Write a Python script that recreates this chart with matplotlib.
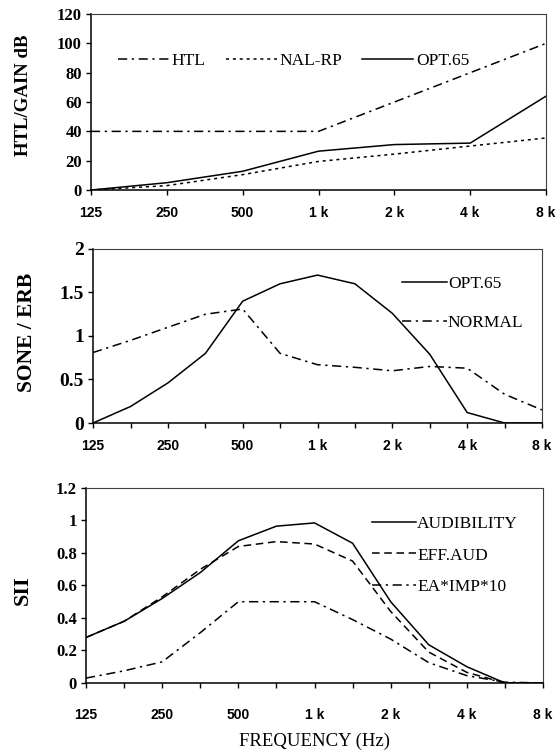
import matplotlib
matplotlib.use("Agg")
import matplotlib.pyplot as plt

# octave frequencies (top panel) and half-octave frequencies (lower panels)
freq_oct = [125, 250, 500, 1000, 2000, 4000, 8000]
freq_half = [125, 177, 250, 354, 500, 707, 1000, 1414, 2000, 2828, 4000, 5657, 8000]
oct_labels = ["125", "250", "500", "1 k", "2 k", "4 k", "8 k"]

# panel 1: HTL / gain in dB
htl = [40, 40, 40, 40, 60, 80, 100]
nal_rp = [0, 3, 10.5, 19.5, 24.5, 30, 35.5]
opt65_gain = [0, 5, 12.8, 26.5, 31, 32, 64]

# panel 2: specific loudness (sone / ERB)
opt65_sone = [0, 0.19, 0.46, 0.80, 1.40, 1.60, 1.70, 1.60, 1.26, 0.79, 0.12, 0, 0]
normal_sone = [0.81, 0.95, 1.10, 1.25, 1.31, 0.80, 0.67, 0.64, 0.60, 0.65, 0.63, 0.33, 0.15]

# panel 3: SII components
audibility = [0.28, 0.38, 0.52, 0.68, 0.875, 0.965, 0.985, 0.86, 0.50, 0.235, 0.10, 0, 0]
eff_aud = [0.28, 0.38, 0.53, 0.70, 0.84, 0.87, 0.855, 0.75, 0.44, 0.19, 0.065, 0, 0]
ea_imp10 = [0.03, 0.075, 0.13, 0.31, 0.50, 0.50, 0.50, 0.39, 0.27, 0.125, 0.045, 0.005, 0]

SERIF = "Liberation Serif"
SANS = "Liberation Sans"

DASHDOT = (0, (6, 3, 1.5, 3))
DOTTED = (0, (2, 2.5))
DASHED = (0, (5, 3))


def style_axes(ax, xticks, xlabels, ylim, yticks, ysize, xpad):
    ax.set_xscale("log", base=2)
    ax.set_xlim(125, 8000)
    ax.set_ylim(*ylim)
    ax.set_yticks(yticks, labels=["%g" % v for v in yticks],
                  fontfamily=SERIF, fontweight="bold", fontsize=ysize)
    ax.set_xticks(xticks, labels=xlabels,
                  fontfamily=SANS, fontweight="bold", fontsize=10)
    ax.minorticks_off()
    ax.tick_params(axis="x", direction="out", length=3.8, width=1, pad=xpad)
    ax.tick_params(axis="y", direction="out", length=3.5, width=1, pad=3)
    for sp in ["left", "bottom"]:
        ax.spines[sp].set_linewidth(1.1)
        ax.spines[sp].set_color("black")
    for sp in ["top", "right"]:
        ax.spines[sp].set_linewidth(0.8)
        ax.spines[sp].set_color("0.25")


fig = plt.figure(figsize=(5.6, 7.52), dpi=100)

# ---- panel 1
ax1 = fig.add_axes([0.1625, 0.7473, 0.8125, 0.234])
ax1.plot(freq_oct, htl, color="black", lw=1.1, ls=DASHDOT, label="HTL")
ax1.plot(freq_oct, nal_rp, color="black", lw=1.1, ls=DOTTED, label="NAL-RP")
ax1.plot(freq_oct, opt65_gain, color="black", lw=1.1, label="OPT.65")
style_axes(ax1, freq_oct, oct_labels, (0, 120), list(range(0, 121, 20)), 12, 7.8)
ax1.set_ylabel("HTL/GAIN dB", fontfamily=SERIF, fontweight="bold", fontsize=13.5)
ax1.yaxis.set_label_coords(-0.13, 0.54)
ax1.legend(loc="center left", bbox_to_anchor=(0.059, 0.733), ncol=3, frameon=False,
           borderpad=0, borderaxespad=0, handlelength=2.95, handletextpad=0.15,
           columnspacing=1.15, prop={"family": SERIF, "size": 12.5})

# ---- panel 2: label every other half-octave tick
half_labels = []
for lab in oct_labels:
    half_labels += [lab, ""]
half_labels = half_labels[:13]

ax2 = fig.add_axes([0.1661, 0.4375, 0.8018, 0.2314])
ax2.plot(freq_half, opt65_sone, color="black", lw=1.1, label="OPT.65")
ax2.plot(freq_half, normal_sone, color="black", lw=1.1, ls=DASHDOT, label="NORMAL")
style_axes(ax2, freq_half, half_labels, (0, 2), [0, 0.5, 1, 1.5, 2], 14, 7.8)
ax2.set_ylabel("SONE / ERB", fontfamily=SERIF, fontweight="bold", fontsize=15.5)
ax2.yaxis.set_label_coords(-0.125, 0.52)
ax2.legend(loc="center left", bbox_to_anchor=(0.688, 0.687), frameon=False,
           borderpad=0, borderaxespad=0, handlelength=2.6, handletextpad=0.05,
           labelspacing=1.35, prop={"family": SERIF, "size": 12.5})

# ---- panel 3
ax3 = fig.add_axes([0.1536, 0.0918, 0.8161, 0.2593])
ax3.plot(freq_half, audibility, color="black", lw=1.1, label="AUDIBILITY")
ax3.plot(freq_half, eff_aud, color="black", lw=1.1, ls=DASHED, label="EFF.AUD")
ax3.plot(freq_half, ea_imp10, color="black", lw=1.1, ls=DASHDOT, label="EA*IMP*10")
style_axes(ax3, freq_half, half_labels, (0, 1.2), [0, 0.2, 0.4, 0.6, 0.8, 1, 1.2], 12, 14.3)
ax3.set_ylabel("SII", fontfamily=SERIF, fontweight="bold", fontsize=16)
ax3.yaxis.set_label_coords(-0.116, 0.477)
ax3.set_xlabel("FREQUENCY (Hz)", fontfamily=SERIF, fontsize=13.5)
ax3.xaxis.set_label_coords(0.5, -0.256)
ax3.legend(loc="center left", bbox_to_anchor=(0.626, 0.654), frameon=False,
           borderpad=0, borderaxespad=0, handlelength=2.5, handletextpad=0.1,
           labelspacing=0.87, prop={"family": SERIF, "size": 12.5})

fig.savefig("out.png", dpi=100)
